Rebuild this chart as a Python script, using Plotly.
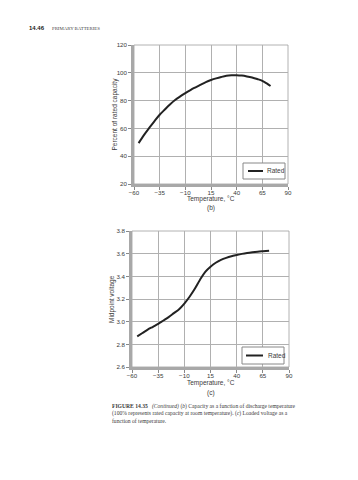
import plotly.graph_objects as go

# Data
temp_b = [-55.5, -50, -45, -40, -35, -30, -25, -20, -15, -10, -5, 0, 5, 10, 15, 20, 25, 30, 35, 40, 45, 50, 55, 60, 65, 70, 73]
cap_b = [49.4, 55.5, 60.5, 65.3, 69.8, 73.6, 77.2, 80.4, 83.0, 85.4, 87.6, 89.6, 91.5, 93.3, 94.8, 96.0, 97.0, 97.8, 98.2, 98.3, 98.0, 97.4, 96.6, 95.5, 94.2, 92.0, 90.5]

temp_c = [-55, -50, -45, -40, -35, -30, -25, -20, -15, -10, -5, 0, 5, 10, 15, 20, 25, 30, 35, 40, 45, 50, 55, 60, 65, 71]
volt_c = [2.87, 2.90, 2.93, 2.955, 2.98, 3.01, 3.04, 3.075, 3.11, 3.16, 3.22, 3.29, 3.37, 3.44, 3.485, 3.52, 3.545, 3.563, 3.577, 3.588, 3.598, 3.606, 3.612, 3.617, 3.621, 3.625]

x_ticks = [-60, -35, -10, 15, 40, 65, 90]
x_tick_text = ["\u221260", "\u221235", "\u221210", "15", "40", "65", "90"]
y_ticks_b = [20, 40, 60, 80, 100, 120]
y_ticks_c = [2.6, 2.8, 3.0, 3.2, 3.4, 3.6, 3.8]
series_name = "Rated"

W, H = 358, 480
def px(x): return x / W
def py(y): return 1 - y / H

SANS = "Liberation Sans, Arial"
SERIF = "Liberation Serif, Times New Roman"
TXT = "#3a3a3a"

fig = go.Figure()
fig.add_trace(go.Scatter(x=temp_b, y=cap_b, mode="lines", name=series_name,
                         line=dict(color="#222", width=2.0, shape="spline", smoothing=1.0),
                         xaxis="x", yaxis="y"))
fig.add_trace(go.Scatter(x=temp_c, y=volt_c, mode="lines", name=series_name,
                         line=dict(color="#222", width=2.0, shape="spline", smoothing=1.0),
                         xaxis="x2", yaxis="y2"))

tickfont = dict(family=SANS, size=6.2, color=TXT)
axis_common = dict(showgrid=True, gridcolor="#b0b0b0", gridwidth=0.8,
                   showline=True, linecolor="#a8a8a8", linewidth=2.5,
                   ticks="outside", ticklen=3, tickcolor="#888", tickwidth=1,
                   tickfont=tickfont, zeroline=False, mirror=False)

fig.update_layout(
    width=W, height=H, margin=dict(l=0, r=0, t=0, b=0, autoexpand=False),
    paper_bgcolor="white", plot_bgcolor="white",
    showlegend=False, hovermode=False,
    xaxis=dict(domain=[px(134), px(288)], anchor="y", range=[-60, 90],
               tickvals=x_ticks, ticktext=x_tick_text, ticklabelstandoff=-2,
               **axis_common),
    yaxis=dict(domain=[py(184), py(45)], anchor="x", range=[20, 120],
               tickvals=y_ticks_b, ticklabelstandoff=0,
               **axis_common),
    xaxis2=dict(domain=[px(132), px(289)], anchor="y2", range=[-60, 90],
                tickvals=x_ticks, ticktext=x_tick_text, ticklabelstandoff=-2,
                **axis_common),
    yaxis2=dict(domain=[py(367), py(231)], anchor="x2", range=[2.6, 3.8],
                tickvals=y_ticks_c, tickformat=".1f", ticklabelstandoff=0,
                **axis_common),
)

shapes = [
    dict(type="rect", xref="x domain", yref="y domain", x0=0, x1=1, y0=0, y1=1,
         line=dict(color="#a0a0a0", width=0.8), layer="below"),
    dict(type="rect", xref="x2 domain", yref="y2 domain", x0=0, x1=1, y0=0, y1=1,
         line=dict(color="#a0a0a0", width=0.8), layer="below"),
]
ann = []

def text(t, x, y, size=6.5, family=SANS, color=TXT, xanchor="center", angle=0):
    ann.append(dict(text=t, x=px(x), y=py(y), xref="paper", yref="paper",
                    xanchor=xanchor, yanchor="middle", showarrow=False, textangle=angle,
                    font=dict(family=family, size=size, color=color)))

# Axis titles
text("Temperature, \u00b0C", 211, 198.5)
text("(b)", 211, 208)
text("Percent of rated capacity", 114, 114.5, angle=-90)
text("Temperature, \u00b0C", 211, 382.5)
text("(c)", 211, 393)
text("Midpoint voltage", 112, 299, angle=-90)

# Legend boxes (drawn in paper space)
def legend_box(x0, x1, y0, y1, lx0, lx1, ly, tx):
    shapes.append(dict(type="rect", xref="paper", yref="paper",
                       x0=px(x0), x1=px(x1), y0=py(y1), y1=py(y0),
                       line=dict(color="#888", width=1), fillcolor="white", layer="above"))
    shapes.append(dict(type="line", xref="paper", yref="paper",
                       x0=px(lx0), x1=px(lx1), y0=py(ly), y1=py(ly),
                       line=dict(color="#222", width=2), layer="above"))
    text(series_name, tx, ly, xanchor="left")

legend_box(243, 285, 163, 179, 248, 263, 171, 265)
legend_box(242, 284, 347, 364, 246, 263, 355.5, 266)

text("<b>14.46</b>", 27, 28, size=6, color="#222", xanchor="left")
text("PRIMARY BATTERIES", 50, 28, size=4.8, family=SERIF, color="#444", xanchor="left")

caption = ("<b>FIGURE 14.35</b>   <i>(Continued)</i> (<i>b</i>) Capacity as a function of discharge temperature<br>"
           "(100% represents rated capacity at room temperature). (<i>c</i>) Loaded voltage as a<br>"
           "function of temperature.")
ann.append(dict(text=caption, x=px(110), y=py(401), xref="paper", yref="paper",
                xanchor="left", yanchor="top", align="left", showarrow=False,
                font=dict(family=SERIF, size=5.6, color=TXT)))
fig.update_layout(annotations=ann, shapes=shapes)

fig.write_html("out.html", config={"displayModeBar": False},
               post_script="document.body.style.margin='0';document.documentElement.style.overflow='hidden';")
